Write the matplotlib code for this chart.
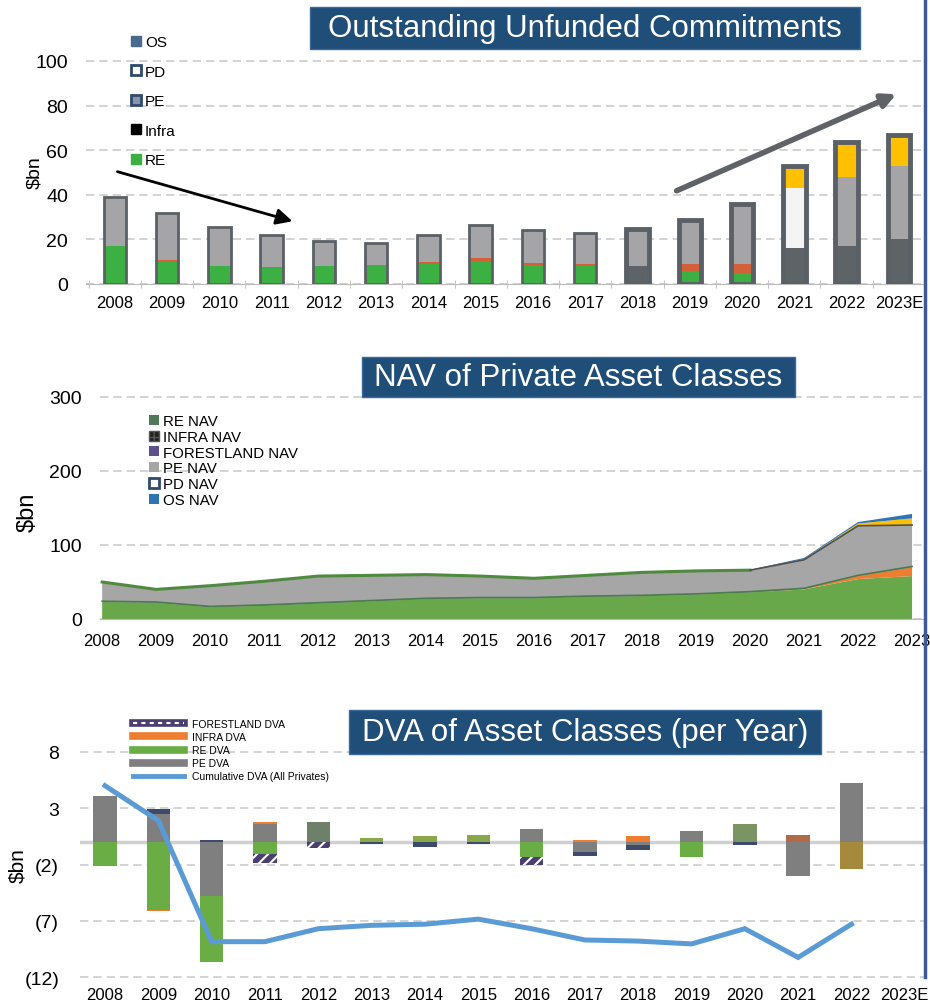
import matplotlib
matplotlib.use('Agg')
import matplotlib.pyplot as plt
import numpy as np
from matplotlib.patches import Rectangle, Patch
from matplotlib.lines import Line2D

plt.rcParams['font.family'] = ['Liberation Sans', 'DejaVu Sans']

# ---------------- data: Outstanding unfunded commitments ($bn) ----------------
uc_years = ['2008', '2009', '2010', '2011', '2012', '2013', '2014', '2015',
            '2016', '2017', '2018', '2019', '2020', '2021', '2022', '2023E']
uc_total = [39, 32, 25.5, 22, 19.5, 18.5, 22, 26.5, 24, 23, 24.5, 28.5, 36, 53, 63.5, 67]
uc_base = [0, 0, 0, 0, 0, 0, 0, 0, 0, 0, 8, 0, 0, 16, 17, 20]
uc_re = [17, 10, 8, 7.5, 8, 8.5, 9, 10, 8.5, 8, 0, 6, 5, 0, 0, 0]
uc_infra = [0, 0.8, 0, 0, 0, 0, 0.8, 1.5, 0.8, 0.8, 0, 3, 4, 0, 0, 0]
uc_pd = [0, 0, 0, 0, 0, 0, 0, 0, 0, 0, 0, 0, 0, 27, 0, 0]
uc_top = [0, 0, 0, 0, 0, 0, 0, 0, 0, 0, 0, 0, 0, 10, 15.5, 14]
uc_legend = ['OS', 'PD', 'PE', 'Infra', 'RE']

# ---------------- data: NAV of private asset classes ($bn) ----------------
nav_years = ['2008', '2009', '2010', '2011', '2012', '2013', '2014', '2015',
             '2016', '2017', '2018', '2019', '2020', '2021', '2022', '2023']
nav_re = [23, 22, 16, 18, 21, 24, 27, 28, 28, 30, 31, 33, 36, 40, 54, 58]
nav_infra = [0, 0, 0, 0, 0, 0, 0, 0, 0, 0, 0, 0, 0, 0.5, 4, 12]
nav_forest = [1, 1, 1, 1, 1, 1, 1, 1, 1, 1, 1, 1, 1, 1, 1, 1]
nav_pe_top = [50, 40, 45, 51, 58, 59, 60, 58, 55, 59, 63, 65, 66, 80, 126, 127]
nav_yellow = [0, 0, 0, 0, 0, 0, 0, 0, 0, 0, 0, 0, 0, 1, 3, 9]
nav_os = [0, 0, 0, 0, 0, 0, 0, 0, 0, 0, 0, 0, 0.5, 1.5, 2, 6]
nav_legend = ['RE NAV', 'INFRA NAV', 'FORESTLAND NAV', 'PE NAV', 'PD NAV', 'OS NAV']

# ---------------- data: DVA of asset classes per year ($bn) ----------------
dva_years = ['2008', '2009', '2010', '2011', '2012', '2013', '2014', '2015',
             '2016', '2017', '2018', '2019', '2020', '2021', '2022', '2023E']
dva_pe = [4.1, 2.5, -4.8, 1.6, 1.8, 0, 0, 0, 1.15, -0.9, -0.3, 0.95, 1.6, -3.0, 5.2]
dva_re = [-2.1, -6.0, -5.9, -1.1, 0, 0.4, 0.5, 0.6, -1.35, 0, 0, -1.35, 0, 0, -2.4]
dva_infra = [0, -0.15, 0, 0.2, 0, 0, 0, 0, 0, 0.2, 0.5, 0, 0, 0.6, 0]
dva_other = [0, 0.4, 0.2, 0, 0, -0.15, -0.4, -0.2, 0, -0.3, -0.4, 0, -0.25, 0, 0]
dva_forest = [0, 0, 0, -0.8, -0.5, 0, 0, 0, -0.65, 0, 0, 0, 0, 0, 0]
dva_cum = [5.0, 1.9, -8.85, -8.85, -7.7, -7.4, -7.3, -6.85, -7.7, -8.7, -8.8, -9.05, -7.7, -10.25, -7.3]
dva_legend = ['FORESTLAND DVA', 'INFRA DVA', 'RE DVA', 'PE DVA', 'Cumulative DVA (All Privates)']

W, H = 930, 1004
fig = plt.figure(figsize=(W / 100, H / 100), dpi=100)

def fx(px):
    return px / W

def fy(py):
    return 1 - py / H

GRID = '#cccccc'
TITLE_BG = '#1f4e79'

def title_box(x0, x1, y0, y1, text):
    fig.patches.append(Rectangle((fx(x0), fy(y1)), fx(x1) - fx(x0), fy(y0) - fy(y1),
                                 transform=fig.transFigure, facecolor=TITLE_BG,
                                 edgecolor='#3a6a9a', lw=1, zorder=5))
    fig.text(fx((x0 + x1) / 2), fy((y0 + y1) / 2), text, color='white', fontsize=22.5,
             ha='center', va='center', zorder=6)

def style_axes(ax, pad_x):
    for s in ['top', 'right', 'left']:
        ax.spines[s].set_visible(False)
    ax.spines['bottom'].set_color('#bbbbbb')
    ax.tick_params(axis='y', length=0, labelsize=14, pad=13)
    ax.tick_params(axis='x', which='major', length=0, labelsize=12, pad=pad_x)
    ax.set_axisbelow(True)

# ======================= Top chart =======================
ax1 = fig.add_axes([fx(86), fy(285), fx(925) - fx(86), fy(50.8) - fy(285)])
x = np.arange(len(uc_years))
tot = np.array(uc_total, float)
base = np.array(uc_base, float)
re = np.array(uc_re, float)
inf = np.array(uc_infra, float)
pd_ = np.array(uc_pd, float)
top = np.array(uc_top, float)
pe = tot - base - re - inf - pd_ - top
bw = 0.43
bottom = np.zeros(len(x))
for vals, col in [(base, '#5e6367'), (re, '#3cb043'), (inf, '#d4603a'),
                  (pe, '#a5a5a8'), (pd_, '#f4f4f4'), (top, '#ffc000')]:
    ax1.bar(x, vals, bw, bottom=bottom, color=col, lw=0, zorder=2)
    bottom += vals
out_lw = [2] * 10 + [3.5] * 6
ax1.bar(x, tot, bw, fill=False, edgecolor='#5b6066', lw=out_lw, zorder=3)
ax1.set_xlim(-0.55, 15.38)
ax1.set_ylim(0, 105)
ax1.set_yticks([0, 20, 40, 60, 80, 100])
ax1.set_xticks(x)
ax1.set_xticklabels(uc_years)
ax1.set_xticks(np.arange(-0.5, 16, 1), minor=True)
ax1.tick_params(axis='x', which='minor', length=6, direction='inout', color='#bbbbbb')
ax1.yaxis.grid(True, color=GRID, ls=(0, (5, 3)), lw=1.2)
style_axes(ax1, 8)
ax1.annotate('', xy=(3.45, 27.8), xytext=(0, 50.7),
             arrowprops=dict(arrowstyle='-|>', color='black', lw=2, mutation_scale=24), zorder=4)
ax1.annotate('', xy=(15.0, 85.6), xytext=(10.7, 41.3),
             arrowprops=dict(arrowstyle='-|>', color='#5f6368', lw=4, mutation_scale=20), zorder=4)
h1 = [Patch(facecolor='#4a6a8c', edgecolor='#4a6a8c'),
      Patch(facecolor='white', edgecolor='#2f4a6b', lw=2),
      Patch(facecolor='#8a94a8', edgecolor='#2f4a6b', lw=2),
      Patch(facecolor='black', edgecolor='black'),
      Patch(facecolor='#3cb043', edgecolor='#3cb043')]
fig.legend(h1, uc_legend, loc='upper left', bbox_to_anchor=(fx(131), fy(36)),
           frameon=False, fontsize=11, handlelength=0.65, handleheight=0.65,
           handletextpad=0.25, labelspacing=1.02, borderpad=0, borderaxespad=0)
fig.text(fx(34.5), fy(173), '$bn', rotation=90, ha='center', va='center', fontsize=14)
title_box(310, 860, 8, 50, 'Outstanding Unfunded Commitments')

# ======================= Middle chart =======================
ax2 = fig.add_axes([fx(100), fy(620), fx(925) - fx(100), fy(390.6) - fy(620)])
xn = np.arange(len(nav_years))
n_re = np.array(nav_re, float)
n_inf = np.array(nav_infra, float)
n_for = np.array(nav_forest, float)
n_pe = np.array(nav_pe_top, float) - n_re - n_inf - n_for
n_yel = np.array(nav_yellow, float)
n_os = np.array(nav_os, float)
ax2.stackplot(xn, n_re, n_inf, n_for, n_pe, n_yel, n_os,
              colors=['#68a84a', '#ed7d31', '#4e7a52', '#a6a6a6', '#ffc000', '#2e75b6'],
              lw=0, zorder=2)
pe_top = n_re + n_inf + n_for + n_pe
ax2.plot(xn[:13], pe_top[:13], color='#4f8a3f', lw=2.2, zorder=3)
ax2.plot(xn[12:], pe_top[12:], color='#505050', lw=1.2, zorder=3)
ax2.plot(xn, n_re + n_inf + n_for, color='#4e7a52', lw=1.2, zorder=3)
ax2.set_xlim(-0.04, 15.24)
ax2.set_ylim(0, 310)
ax2.set_yticks([0, 100, 200, 300])
ax2.set_xticks(xn)
ax2.set_xticklabels(nav_years)
ax2.yaxis.grid(True, color=GRID, ls=(0, (5, 3)), lw=1.2)
style_axes(ax2, 10)
h2 = [Patch(facecolor='#4f7a5a'),
      Patch(facecolor='#222222', hatch='++', edgecolor='#555555'),
      Patch(facecolor='#5b4f8c'),
      Patch(facecolor='#a6a6a6'),
      Patch(facecolor='white', edgecolor='#2f4a6b', lw=2),
      Patch(facecolor='#2e75b6')]
fig.legend(h2, nav_legend, loc='upper left', bbox_to_anchor=(fx(149), fy(415)),
           frameon=False, fontsize=10.8, handlelength=0.65, handleheight=0.65,
           handletextpad=0.25, labelspacing=0.12, borderpad=0, borderaxespad=0)
fig.text(fx(27.5), fy(512), '$bn', rotation=90, ha='center', va='center', fontsize=17)
title_box(362, 795, 358, 398, 'NAV of Private Asset Classes')

# ======================= Bottom chart =======================
ax3 = fig.add_axes([fx(80), fy(981.5), fx(925) - fx(80), fy(741.7) - fy(981.5)])
xd = np.arange(len(dva_pe))
pe_cols = ['#7f7f7f'] * len(xd)
pe_cols[4] = '#6f806a'
pe_cols[12] = '#7a9463'
re_cols = ['#6aad45'] * len(xd)
re_cols[5] = re_cols[6] = re_cols[7] = '#8aa84a'
re_cols[14] = '#a58a3c'
inf_cols = ['#ed7d31'] * len(xd)
inf_cols[13] = '#b06a48'
series = [(dva_pe, pe_cols, None), (dva_re, re_cols, None), (dva_infra, inf_cols, None),
          (dva_other, '#3d4a6b', None), (dva_forest, '#4b3f72', '///')]
pos_b = np.zeros(len(xd))
neg_b = np.zeros(len(xd))
bw3 = 0.44
plt.rcParams['hatch.color'] = 'white'
plt.rcParams['hatch.linewidth'] = 1.5
for vals, col, hatch in series:
    v = np.array(vals, float)
    pos = np.where(v > 0, v, 0)
    neg = np.where(v < 0, v, 0)
    ax3.bar(xd, pos, bw3, bottom=pos_b, color=col, lw=0, hatch=hatch, zorder=2)
    ax3.bar(xd, neg, bw3, bottom=neg_b, color=col, lw=0, hatch=hatch, zorder=2)
    pos_b += pos
    neg_b += neg
ax3.axhline(0, color='#d0d0d0', lw=2.5, zorder=1)
ax3.plot(xd, dva_cum, color='#5b9bd5', lw=3.6, solid_joinstyle='miter', zorder=4)
ax3.set_xlim(-0.47, 15.38)
ax3.set_ylim(-12.3, 9)
ax3.set_yticks([8, 3, -2, -7, -12])
ax3.set_yticklabels(['8', '3', '(2)', '(7)', '(12)'])
xt = np.arange(len(dva_years))
ax3.set_xticks(xt)
ax3.set_xticklabels(dva_years)
ax3.yaxis.grid(True, color=GRID, ls=(0, (5, 3)), lw=1.2)
style_axes(ax3, 5)
ax3.spines['bottom'].set_visible(False)
ax3.tick_params(axis='y', pad=15)
h3 = [(Line2D([], [], color='#4b3f72', lw=5.5), Line2D([], [], color='white', lw=1.5, ls=(0, (2, 2)))),
      Line2D([], [], color='#ed7d31', lw=5.5),
      Line2D([], [], color='#6aad45', lw=5.5),
      Line2D([], [], color='#7f7f7f', lw=5.5),
      Line2D([], [], color='#5b9bd5', lw=3.5)]
fig.legend(h3, dva_legend, loc='upper left', bbox_to_anchor=(fx(133), fy(720)),
           frameon=False, fontsize=7.5, handlelength=4.9, handletextpad=0.8,
           labelspacing=0.3, borderpad=0, borderaxespad=0)
fig.text(fx(18), fy(866), '$bn', rotation=90, ha='center', va='center', fontsize=15)
title_box(349, 821, 711, 755, 'DVA of Asset Classes (per Year)')

# right border line
fig.add_artist(Line2D([fx(925), fx(925)], [fy(0), fy(978)], transform=fig.transFigure,
                      color='#3d5a98', lw=2.5))

fig.savefig('out.png', dpi=100)
